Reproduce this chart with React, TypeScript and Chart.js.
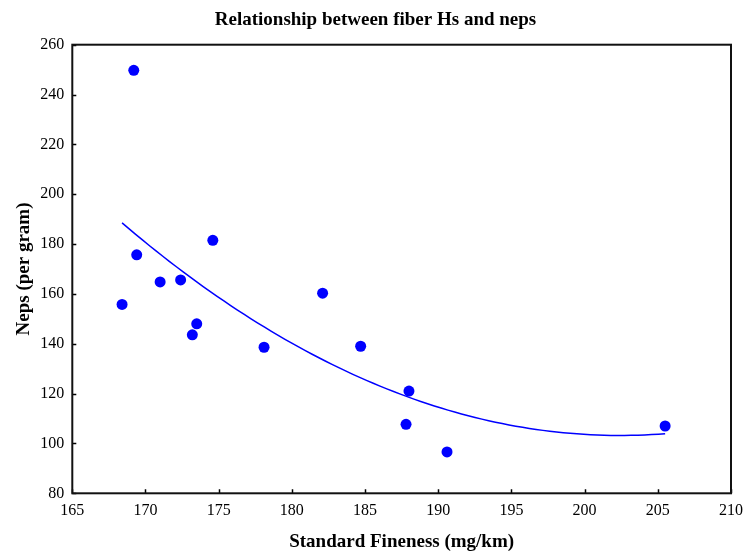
import React, { useEffect, useRef } from "react";
import { Chart, registerables } from "chart.js";
Chart.register(...registerables);

const titleText = "Relationship between fiber Hs and neps";
const xTitle = "Standard Fineness (mg/km)";
const yTitle = "Neps (per gram)";

const fineness = [168.4, 169.2, 169.4, 171.0, 172.4, 173.5, 173.2, 174.6, 178.1, 182.1, 184.7, 188.0, 187.8, 190.6, 205.5];
const neps = [155.8, 249.7, 175.7, 164.8, 165.6, 148.0, 143.6, 181.5, 138.6, 160.3, 139.0, 121.0, 107.7, 96.6, 107.0];

const xTickValues = [165, 170, 175, 180, 185, 190, 195, 200, 205, 210];
const yTickValues = [80, 100, 120, 140, 160, 180, 200, 220, 240, 260];

const fitSamples = 80;

function quadFit(xs: number[], ys: number[]) {
  const n = xs.length;
  const mx = xs.reduce((a, b) => a + b, 0) / n;
  let s0 = n, s1 = 0, s2 = 0, s3 = 0, s4 = 0, t0 = 0, t1 = 0, t2 = 0;
  for (let i = 0; i < n; i++) {
    const u = xs[i] - mx;
    s1 += u; s2 += u * u; s3 += u * u * u; s4 += u * u * u * u;
    t0 += ys[i]; t1 += u * ys[i]; t2 += u * u * ys[i];
  }
  const M = [
    [s0, s1, s2, t0],
    [s1, s2, s3, t1],
    [s2, s3, s4, t2],
  ];
  for (let c = 0; c < 3; c++) {
    for (let r = c + 1; r < 3; r++) {
      const f = M[r][c] / M[c][c];
      for (let k = c; k < 4; k++) M[r][k] -= f * M[c][k];
    }
  }
  const b = [0, 0, 0];
  for (let r = 2; r >= 0; r--) {
    let s = M[r][3];
    for (let k = r + 1; k < 3; k++) s -= M[r][k] * b[k];
    b[r] = s / M[r][r];
  }
  return (x: number) => {
    const u = x - mx;
    return b[0] + b[1] * u + b[2] * u * u;
  };
}

const framePlugin = {
  id: "frameTicks",
  afterDatasetsDraw(chart: any) {
    const { ctx, chartArea } = chart;
    const xs = chart.scales.x;
    const ys = chart.scales.y;
    ctx.save();
    ctx.strokeStyle = "#000";
    ctx.lineWidth = 1.5;
    ctx.beginPath();
    for (const v of xTickValues) {
      const px = Math.round(xs.getPixelForValue(v)) + 0.5;
      ctx.moveTo(px, chartArea.bottom);
      ctx.lineTo(px, chartArea.bottom - 4);
    }
    for (const v of yTickValues) {
      const py = Math.round(ys.getPixelForValue(v)) + 0.5;
      ctx.moveTo(chartArea.left, py);
      ctx.lineTo(chartArea.left + 4, py);
    }
    ctx.stroke();
    ctx.lineWidth = 2;
    ctx.strokeStyle = "#111";
    ctx.strokeRect(chartArea.left, chartArea.top, chartArea.right - chartArea.left, chartArea.bottom - chartArea.top);
    ctx.restore();
  },
};

export default function App() {
  const ref = useRef<HTMLCanvasElement>(null);
  useEffect(() => {
    const fit = quadFit(fineness, neps);
    const lo = Math.min(...fineness);
    const hi = Math.max(...fineness);
    const fitData = [];
    for (let i = 0; i <= fitSamples; i++) {
      const x = lo + ((hi - lo) * i) / fitSamples;
      fitData.push({ x, y: fit(x) });
    }
    const points = fineness.map((x, i) => ({ x, y: neps[i] }));
    const serif = "'Liberation Serif', 'Times New Roman', serif";
    const tickFont = { family: serif, size: 16 };
    const chart = new Chart(ref.current!, {
      type: "scatter",
      data: {
        datasets: [
          {
            label: "Neps",
            data: points,
            backgroundColor: "#0000ff",
            borderColor: "#0000ff",
            pointRadius: 5.5,
            pointBorderWidth: 0,
          },
          {
            label: "Fit",
            data: fitData,
            showLine: true,
            borderColor: "#0000ff",
            borderWidth: 1.5,
            pointRadius: 0,
            tension: 0,
          } as any,
        ],
      },
      plugins: [framePlugin],
      options: {
        responsive: false,
        animation: false,
        devicePixelRatio: 1,
        layout: { padding: { left: 20, right: 14, top: 0, bottom: 0 } },
        plugins: {
          legend: { display: false },
          tooltip: { enabled: false },
          title: {
            display: true,
            text: titleText,
            color: "#000",
            font: { family: serif, size: 19, weight: "bold" },
            padding: { top: 9, bottom: 12.9 },
          },
        },
        scales: {
          x: {
            type: "linear",
            min: 165,
            max: 210,
            afterFit: (s: any) => { s.height = 58.7; s.paddingLeft = 0; s.paddingRight = 0; },
            afterBuildTicks: (s: any) => { s.ticks = xTickValues.map((v) => ({ value: v })); },
            grid: { display: false, drawTicks: false, tickLength: 0 },
            border: { display: false },
            ticks: { color: "#000", font: tickFont, padding: 8, maxRotation: 0 },
            title: {
              display: true,
              text: xTitle,
              color: "#000",
              font: { family: serif, size: 19, weight: "bold", lineHeight: 1 },
              padding: { top: 0, bottom: 0 },
            },
          },
          y: {
            type: "linear",
            min: 80,
            max: 260,
            afterFit: (s: any) => { s.width = 52.3; s.paddingTop = 0; s.paddingBottom = 0; },
            afterBuildTicks: (s: any) => { s.ticks = yTickValues.map((v) => ({ value: v })); },
            grid: { display: false, drawTicks: false, tickLength: 0 },
            border: { display: false },
            ticks: { color: "#000", font: tickFont, padding: 8 },
            title: {
              display: true,
              text: yTitle,
              color: "#000",
              font: { family: serif, size: 19, weight: "bold" },
              padding: { top: -7.4, bottom: 0 },
            },
          },
        },
      } as any,
    });
    return () => chart.destroy();
  }, []);
  return (
    <canvas
      ref={ref}
      width={745}
      height={552}
      style={{ position: "fixed", left: 0, top: 0, width: 745, height: 552 }}
    />
  );
}
